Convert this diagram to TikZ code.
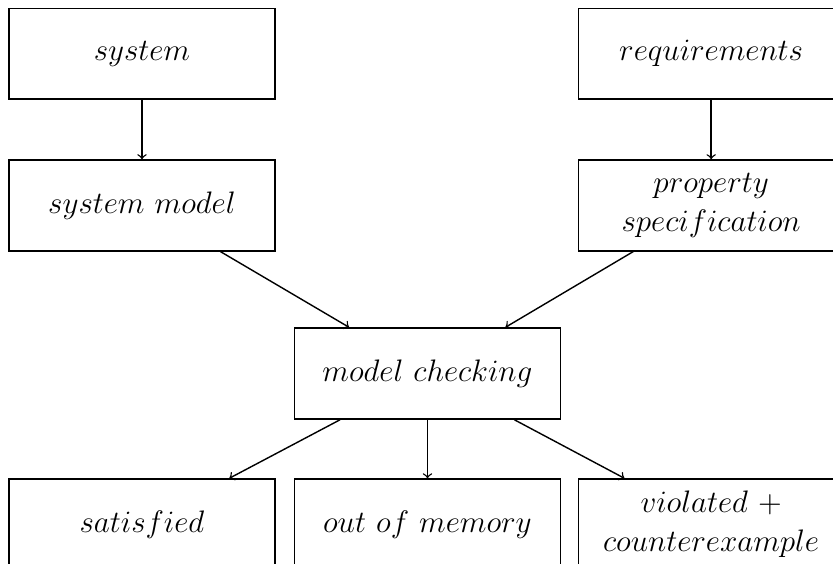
\documentclass[tikz,border=0pt]{standalone}
\begin{document}
\begin{tikzpicture}[x=0.463pt, y=-0.463pt,
  box/.style={draw, line width=0.7pt, minimum width=123pt, minimum height=42.1pt,
              inner sep=0pt, align=center, font=\Large},
  flow/.style={->, line width=0.65pt}]
  \useasboundingbox (0,0) rectangle (833,564);
  \clip (0,0) rectangle (833,564);

  % inputs
  \node[box] (sys)  at (142,53.8)    {$system$};
  \node[box] (req)  at (711.2,53.8)  {$requirements$};
  \node[box] (sysm) at (142,205.4)   {$system\ model$};
  \node[box] (prop) at (711.2,205.4) {$property$\\$specification$};

  % checker
  \node[box] (mc)   at (427.5,373.5) {$model\ checking$};

  % outcomes
  \node[box] (sat)  at (142,524.5)   {$satisfied$};
  \node[box] (oom)  at (427.5,524.5) {$out\ of\ memory$};
  \node[box] (vio)  at (711.2,524.5) {$violated\ +$\\$counterexample$};

  \draw[flow] (sys)  -- (sysm);
  \draw[flow] (req)  -- (prop);
  \draw[flow] (sysm) -- (mc);
  \draw[flow] (prop) -- (mc);
  \draw[flow] (mc)   -- (sat);
  \draw[flow] (mc)   -- (oom);
  \draw[flow] (mc)   -- (vio);
\end{tikzpicture}
\end{document}
